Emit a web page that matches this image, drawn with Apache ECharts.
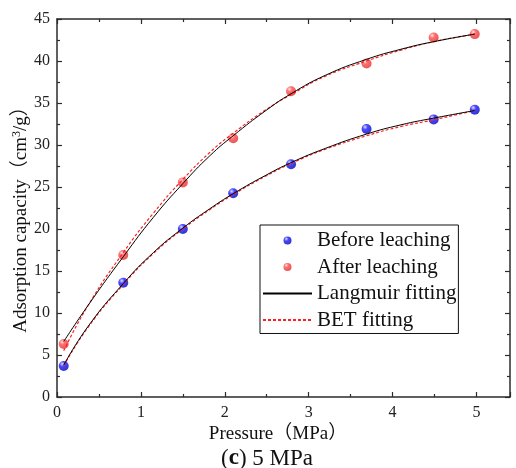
<!DOCTYPE html>
<html>
<head>
<meta charset="utf-8">
<script src="https://cdn.jsdelivr.net/npm/echarts@6/dist/echarts.min.js"></script>
<style>
html, body { margin: 0; padding: 0; background: #fff; }
#chart { width: 516px; height: 468px; }
</style>
</head>
<body>
<div id="chart"></div>
<script>
// 实测点：压力 (MPa) 与吸附量
const pressure = [0.08, 0.79, 1.5, 2.1, 2.79, 3.69, 4.49, 4.98];
const beforeLeaching = [3.7, 13.6, 20.0, 24.25, 27.7, 31.9, 33.05, 34.2];
const afterLeaching = [6.3, 16.9, 25.55, 30.8, 36.4, 39.7, 42.8, 43.2];
// 拟合曲线（读图取点）
const fitPressure = [0.08, 0.37, 0.79, 1.15, 1.5, 1.82, 2.1, 2.49, 2.79, 3.2, 3.69, 4.1, 4.49, 4.98];
const langmuirBefore = [3.8, 8.4, 13.5, 17.2, 20.1, 22.4, 24.2, 26.4, 27.9, 29.6, 31.3, 32.4, 33.2, 34.1];
const betBefore = [3.7, 8.3, 13.4, 17.1, 20.0, 22.3, 24.1, 26.3, 27.8, 29.5, 31.1, 32.2, 33.0, 34.1];
const langmuirAfter = [6.6, 10.9, 16.7, 21.4, 25.4, 28.7, 31.1, 34.1, 36.1, 38.3, 40.2, 41.4, 42.3, 43.2];
const betAfter = [5.5, 10.9, 17.2, 21.9, 25.9, 29.1, 31.4, 34.2, 36.0, 38.2, 40.0, 41.3, 42.3, 43.2];
// 坐标轴刻度
const xTicks = [0, 1, 2, 3, 4, 5];
const yTicks = [0, 5, 10, 15, 20, 25, 30, 35, 40, 45];

const FONT = '"Liberation Serif", "Times New Roman", "Noto Sans CJK SC", serif';
const AXIS_COLOR = '#2b2b2b';

function pairs(xs, ys) {
  return xs.map((x, i) => [x, ys[i]]);
}

// 球形散点
function ball(light, mid, dark) {
  return new echarts.graphic.RadialGradient(0.35, 0.3, 0.75, [
    { offset: 0, color: light },
    { offset: 0.35, color: mid },
    { offset: 1, color: dark }
  ]);
}

const blueBall = ball('#d8d8ff', '#1a1aff', '#0000b8');
const redBall = ball('#ffe0e0', '#ff4a4a', '#e02a2a');

const tickCommon = { inside: true, length: 5, lineStyle: { color: AXIS_COLOR, width: 1.2 } };
const minorCommon = { show: true, splitNumber: 2, length: 3, lineStyle: { color: AXIS_COLOR, width: 1.2 } };
const lineCommon = { show: true, onZero: false, lineStyle: { color: AXIS_COLOR, width: 1.5 } };
const labelCommon = { fontFamily: FONT, fontSize: 16, color: '#222' };
const betLine = { color: '#ff2020', width: 1.2, type: [3, 2] };
const langLine = { color: '#000', width: 1 };

const chart = echarts.init(document.getElementById('chart'), null, { renderer: 'canvas' });

chart.setOption({
  animation: false,
  backgroundColor: '#fff',
  textStyle: { fontFamily: FONT },
  title: {
    text: '({b|c}) 5 MPa',
    left: 262,
    top: 442,
    textAlign: 'center',
    textStyle: {
      fontFamily: FONT,
      fontSize: 23,
      fontWeight: 'normal',
      color: '#111',
      rich: { b: { fontFamily: FONT, fontSize: 23, fontWeight: 'bold', color: '#111' } }
    }
  },
  grid: { left: 57, right: 6, top: 19, bottom: 71 },
  legend: {
    left: 260,
    top: 225,
    orient: 'vertical',
    padding: [5, 2, 3, 2],
    borderColor: '#111',
    borderWidth: 1,
    borderRadius: 0,
    itemWidth: 49,
    itemHeight: 8,
    itemGap: 5.5,
    textStyle: { fontFamily: FONT, fontSize: 21, color: '#111' },
    data: [
      { name: 'Before leaching' },
      { name: 'After leaching' },
      { name: 'Langmuir fitting', itemStyle: { opacity: 0 } },
      { name: 'BET fitting', itemStyle: { opacity: 0 } }
    ]
  },
  xAxis: [
    {
      type: 'value',
      min: 0,
      max: 5.4,
      interval: 1,
      name: 'Pressure（MPa）',
      nameLocation: 'middle',
      nameGap: 28,
      nameMoveOverlap: false,
      nameTextStyle: { fontFamily: FONT, fontSize: 19, color: '#111', padding: [0, 11, 0, 0] },
      axisLine: lineCommon,
      axisTick: tickCommon,
      minorTick: minorCommon,
      splitLine: { show: false },
      axisLabel: {
        ...labelCommon,
        margin: 8,
        showMaxLabel: false,
        formatter: v => (xTicks.includes(v) ? String(v) : '')
      }
    },
    {
      type: 'value',
      position: 'top',
      min: 0,
      max: 5.4,
      interval: 1,
      axisLine: lineCommon,
      axisTick: tickCommon,
      minorTick: minorCommon,
      splitLine: { show: false },
      axisLabel: { show: false }
    }
  ],
  yAxis: [
    {
      type: 'value',
      min: 0,
      max: 45,
      interval: 5,
      name: 'Adsorption capacity（cm{sup|3}/g）',
      nameLocation: 'middle',
      nameGap: 26,
      nameMoveOverlap: false,
      nameTextStyle: {
        fontFamily: FONT,
        fontSize: 19,
        color: '#111',
        padding: [0, 14, 0, 0],
        rich: { sup: { fontFamily: FONT, fontSize: 12, color: '#111', verticalAlign: 'top', padding: [0, 0, 8, 0] } }
      },
      axisLine: lineCommon,
      axisTick: tickCommon,
      minorTick: minorCommon,
      splitLine: { show: false },
      axisLabel: {
        ...labelCommon,
        margin: 7,
        formatter: v => (yTicks.includes(v) ? String(v) : '')
      }
    },
    {
      type: 'value',
      position: 'right',
      min: 0,
      max: 45,
      interval: 5,
      axisLine: lineCommon,
      axisTick: tickCommon,
      minorTick: minorCommon,
      splitLine: { show: false },
      axisLabel: { show: false }
    }
  ],
  series: [
    {
      name: 'Before leaching',
      type: 'scatter',
      symbolSize: 10,
      itemStyle: { color: blueBall },
      data: pairs(pressure, beforeLeaching)
    },
    {
      name: 'After leaching',
      type: 'scatter',
      symbolSize: 10,
      itemStyle: { color: redBall },
      data: pairs(pressure, afterLeaching)
    },
    {
      name: 'BET fitting',
      type: 'line',
      smooth: true,
      symbol: 'none',
      lineStyle: betLine,
      itemStyle: { color: '#ff2020' },
      data: pairs(fitPressure, betBefore)
    },
    {
      name: 'BET fitting',
      type: 'line',
      smooth: true,
      symbol: 'none',
      lineStyle: betLine,
      itemStyle: { color: '#ff2020' },
      data: pairs(fitPressure, betAfter)
    },
    {
      name: 'Langmuir fitting',
      type: 'line',
      smooth: true,
      symbol: 'none',
      lineStyle: langLine,
      itemStyle: { color: '#000' },
      data: pairs(fitPressure, langmuirBefore)
    },
    {
      name: 'Langmuir fitting',
      type: 'line',
      smooth: true,
      symbol: 'none',
      lineStyle: langLine,
      itemStyle: { color: '#000' },
      data: pairs(fitPressure, langmuirAfter)
    }
  ]
});
</script>
</body>
</html>
